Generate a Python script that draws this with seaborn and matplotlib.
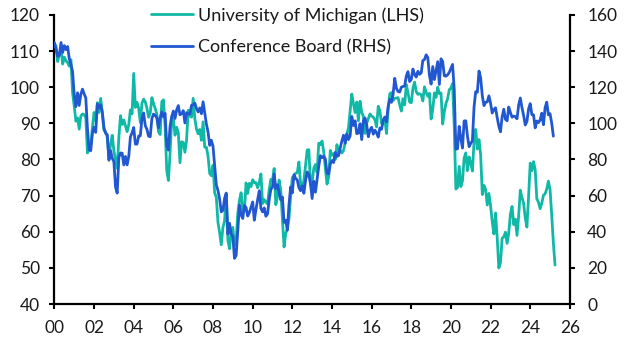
import numpy as np
import pandas as pd
import matplotlib
matplotlib.use('Agg')
import matplotlib.pyplot as plt
import seaborn as sns

# University of Michigan consumer sentiment, monthly Jan 2000 - Apr 2025 (LHS)
umich = [
    112.0, 111.3, 107.1, 109.2, 110.7, 106.4, 108.3, 107.3, 106.8, 105.8, 107.6, 98.4,   # 2000
    94.7, 90.6, 91.5, 88.4, 92.0, 92.6, 92.4, 91.5, 81.8, 82.7, 83.9, 88.8,             # 2001
    93.0, 90.7, 95.7, 93.0, 96.9, 92.4, 88.1, 87.6, 86.1, 80.6, 84.2, 86.7,             # 2002
    82.4, 79.9, 77.6, 86.0, 92.1, 89.7, 90.9, 89.3, 87.7, 89.6, 93.7, 92.6,             # 2003
    103.8, 94.4, 95.8, 94.2, 90.2, 95.6, 96.7, 95.9, 94.2, 91.7, 92.8, 97.1,            # 2004
    95.5, 94.1, 92.6, 87.7, 86.9, 96.0, 96.5, 89.1, 76.9, 74.2, 81.6, 91.5,             # 2005
    91.2, 86.7, 88.9, 87.4, 79.1, 84.9, 84.7, 82.0, 85.4, 93.6, 92.1, 91.7,             # 2006
    96.9, 91.3, 88.4, 87.1, 88.3, 85.3, 90.4, 83.4, 83.4, 80.9, 76.1, 75.5,             # 2007
    78.4, 70.8, 69.5, 62.6, 59.8, 56.4, 61.2, 63.0, 70.3, 57.6, 55.3, 60.1,             # 2008
    61.2, 56.3, 57.3, 65.1, 68.7, 70.8, 66.0, 65.7, 73.5, 70.6, 73.4, 72.5,             # 2009
    74.4, 73.6, 73.6, 72.2, 73.6, 76.0, 67.8, 68.9, 68.2, 67.7, 71.6, 74.5,             # 2010
    74.2, 77.5, 67.5, 69.8, 74.3, 71.5, 63.7, 55.8, 59.5, 60.8, 63.7, 69.9,             # 2011
    75.0, 75.3, 76.2, 76.4, 79.3, 73.2, 72.3, 74.3, 78.3, 82.6, 82.7, 72.9,             # 2012
    73.8, 77.6, 78.6, 76.4, 84.5, 84.1, 85.1, 82.1, 77.5, 73.2, 75.1, 82.5,             # 2013
    81.2, 81.6, 80.0, 84.1, 81.9, 82.5, 81.8, 82.5, 84.6, 86.9, 88.8, 93.6,             # 2014
    98.1, 95.4, 93.0, 95.9, 90.7, 96.1, 93.1, 91.9, 87.2, 90.0, 91.3, 92.6,             # 2015
    92.0, 91.7, 91.0, 89.0, 94.7, 93.5, 90.0, 89.8, 91.2, 87.2, 93.8, 98.2,             # 2016
    98.5, 96.3, 96.9, 97.0, 97.1, 95.1, 93.4, 96.8, 95.1, 100.7, 98.5, 95.9,            # 2017
    95.7, 99.7, 101.4, 98.8, 98.0, 98.2, 97.9, 96.2, 100.1, 98.6, 97.5, 98.3,           # 2018
    91.2, 93.8, 98.4, 97.2, 100.0, 98.2, 98.4, 89.8, 93.2, 95.5, 96.8, 99.3,            # 2019
    99.8, 101.0, 89.1, 71.8, 72.3, 78.1, 72.5, 74.1, 80.4, 81.8, 76.9, 80.7,            # 2020
    79.0, 76.8, 84.9, 88.3, 82.9, 85.5, 81.2, 70.3, 72.8, 71.7, 67.4, 70.6,             # 2021
    67.2, 62.8, 59.4, 65.2, 58.4, 50.0, 51.5, 58.2, 58.6, 59.9, 56.8, 59.7,             # 2022
    64.9, 67.0, 62.0, 63.5, 59.0, 64.4, 71.5, 69.5, 67.9, 63.8, 61.3, 69.7,             # 2023
    79.0, 76.9, 79.4, 77.2, 69.1, 68.2, 66.4, 67.9, 70.1, 70.5, 71.8, 74.0,             # 2024
    71.7, 64.7, 57.0, 50.8,                                                             # 2025
]

# Conference Board consumer confidence, monthly Jan 2000 - Mar 2025 (RHS)
conf_board = [
    144.7, 140.8, 137.1, 137.7, 144.7, 139.2, 143.0, 140.8, 142.5, 135.8, 132.6, 128.6,  # 2000
    115.7, 109.2, 116.9, 109.9, 116.1, 118.9, 116.3, 114.0, 97.0, 85.3, 84.9, 94.6,      # 2001
    97.8, 95.0, 110.7, 108.5, 110.3, 106.3, 97.4, 94.5, 93.7, 79.6, 84.9, 80.7,          # 2002
    78.8, 64.8, 61.4, 81.0, 83.6, 83.5, 77.0, 81.7, 77.0, 81.7, 92.5, 94.8,              # 2003
    97.7, 88.5, 88.5, 93.0, 93.1, 102.8, 105.7, 98.7, 96.7, 92.9, 92.6, 102.7,           # 2004
    105.1, 104.4, 103.0, 97.5, 103.1, 106.2, 103.6, 105.5, 87.5, 85.2, 98.3, 103.8,      # 2005
    106.8, 102.7, 107.5, 109.8, 104.7, 105.4, 107.0, 100.2, 105.9, 105.1, 105.3, 110.0,  # 2006
    110.2, 111.2, 108.2, 106.3, 108.5, 105.3, 111.9, 105.6, 99.5, 95.2, 87.8, 90.6,      # 2007
    87.3, 76.4, 65.9, 62.8, 58.1, 51.0, 51.9, 58.5, 61.4, 38.8, 44.7, 38.6,              # 2008
    37.4, 25.3, 26.9, 40.8, 54.8, 49.3, 47.4, 54.5, 53.4, 48.7, 50.6, 53.6,              # 2009
    56.5, 46.4, 52.3, 57.7, 62.7, 52.9, 51.0, 53.2, 48.6, 49.9, 57.8, 63.4,              # 2010
    64.8, 72.0, 63.8, 66.0, 61.7, 57.6, 59.2, 45.2, 46.4, 40.9, 55.2, 64.8,              # 2011
    61.5, 71.6, 69.5, 68.7, 64.4, 62.7, 65.4, 61.3, 68.4, 73.1, 71.5, 66.7,              # 2012
    58.4, 68.0, 61.9, 69.0, 76.2, 82.1, 81.0, 81.8, 80.2, 72.4, 72.0, 77.5,              # 2013
    79.4, 78.3, 83.9, 81.7, 82.2, 86.4, 90.3, 93.4, 89.0, 94.1, 91.0, 93.1,              # 2014
    103.8, 98.8, 101.4, 94.3, 94.6, 99.8, 91.0, 101.3, 103.0, 99.1, 92.6, 96.3,          # 2015
    97.8, 94.0, 96.2, 94.7, 92.4, 97.4, 96.7, 101.8, 103.5, 100.8, 109.4, 113.3,         # 2016
    111.6, 116.1, 124.9, 119.4, 117.6, 117.3, 120.0, 120.4, 120.6, 126.2, 128.6, 123.1,  # 2017
    124.3, 130.0, 127.0, 125.6, 128.8, 127.1, 127.9, 134.7, 135.3, 137.9, 136.4, 126.6,  # 2018
    121.7, 131.4, 124.2, 129.2, 134.1, 121.5, 135.7, 134.2, 126.3, 126.1, 126.8, 128.2,  # 2019
    130.4, 132.6, 118.8, 85.7, 85.9, 98.3, 91.7, 86.3, 101.3, 101.4, 92.9, 87.1,         # 2020
    88.9, 90.4, 109.0, 117.5, 117.2, 128.9, 125.1, 115.2, 109.8, 111.6, 111.9, 115.2,    # 2021
    111.1, 105.7, 107.6, 108.6, 103.2, 98.4, 95.3, 103.6, 107.8, 102.2, 101.4, 109.0,    # 2022
    106.0, 103.4, 104.0, 103.7, 102.5, 110.1, 114.0, 108.7, 104.3, 99.1, 101.0, 108.0,   # 2023
    110.9, 104.8, 104.7, 97.5, 101.3, 100.4, 101.9, 105.6, 99.2, 108.7, 111.7, 104.7,    # 2024
    105.3, 100.1, 92.9,                                                                  # 2025
]

x_ticks = list(range(2000, 2027, 2))
x_labels = [f"{t % 100:02d}" for t in x_ticks]
left_ticks = list(range(40, 121, 10))
right_ticks = list(range(0, 161, 20))

# fractional year for each month
def frac_year(n):
    d = pd.date_range('2000-01-01', periods=n, freq='MS')
    return d.year + (d.month - 1) / 12

df_um = pd.DataFrame({'x': frac_year(len(umich)), 'y': umich})
df_cb = pd.DataFrame({'x': frac_year(len(conf_board)), 'y': conf_board})

sns.set_theme(style='ticks')
plt.rcParams['font.family'] = ['Lato', 'DejaVu Sans']
plt.rcParams['text.color'] = '#1a1a1a'

teal = '#10B8A6'
blue = '#2157D0'

fig = plt.figure(figsize=(6.29, 3.54), dpi=100)
ax = fig.add_axes([0.0865, 0.141, 0.8195, 0.817])
ax2 = ax.twinx()

sns.lineplot(data=df_um, x='x', y='y', ax=ax, color=teal, lw=2.0,
             label='University of Michigan (LHS)', legend=False)
sns.lineplot(data=df_cb, x='x', y='y', ax=ax2, color=blue, lw=2.0,
             label='Conference Board (RHS)', legend=False)

ax.set_xlim(2000, 2026)
ax.set_ylim(40, 120)
ax2.set_ylim(0, 160)
ax.set_xticks(x_ticks)
ax.set_xticklabels(x_labels)
ax.set_yticks(left_ticks)
ax2.set_yticks(right_ticks)
ax.set_xlabel('')
ax.set_ylabel('')
ax2.set_ylabel('')

for a in (ax, ax2):
    a.spines['top'].set_visible(False)
    for s in ('left', 'right', 'bottom'):
        a.spines[s].set_linewidth(1.6)
        a.spines[s].set_color('black')
ax.spines['right'].set_visible(False)
ax2.spines['left'].set_visible(False)
ax2.spines['bottom'].set_visible(False)

ax.tick_params(axis='y', direction='out', length=3.5, width=1.5, labelsize=12.5, pad=7, colors='black', labelcolor='#1a1a1a')
ax.tick_params(axis='x', direction='out', length=3.5, width=1.5, labelsize=12.5, pad=8, colors='black', labelcolor='#1a1a1a')
ax2.tick_params(axis='y', direction='out', length=3.5, width=1.5, labelsize=12.5, pad=9, colors='black', labelcolor='#1a1a1a')

handles = ax.get_lines()[:1] + ax2.get_lines()[:1]
fig.legend(handles, [h.get_label() for h in handles], loc='upper left',
           bbox_to_anchor=(0.228, 1.0), frameon=False, fontsize=13,
           handlelength=2.35, handletextpad=0.3, labelspacing=0.85,
           borderaxespad=0)

fig.savefig('out.png', dpi=100)
